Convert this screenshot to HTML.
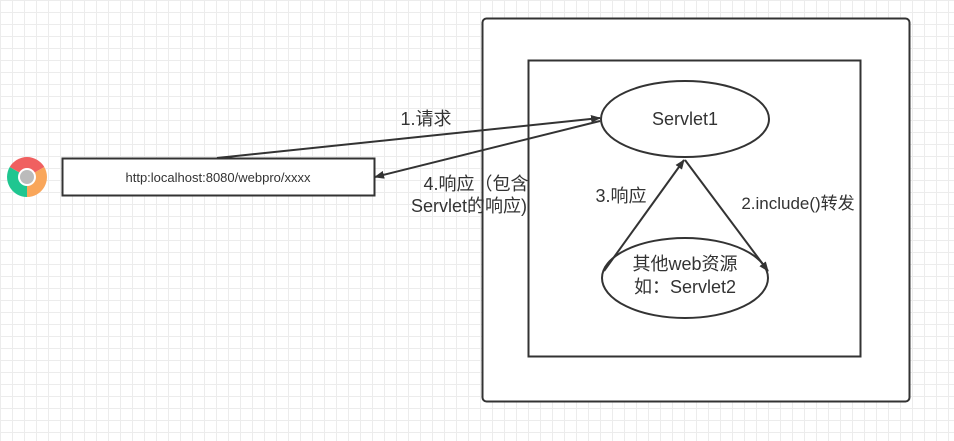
<!DOCTYPE html>
<html><head><meta charset="utf-8"><style>
html,body{margin:0;padding:0;}
body{width:954px;height:441px;overflow:hidden;background:#fff;
background-image:linear-gradient(#ececec 1px,transparent 1px),linear-gradient(90deg,#ececec 1px,transparent 1px);
background-size:12px 12px;}
</style></head><body>
<svg width="954" height="441" style="position:absolute;left:0;top:0" font-family="Liberation Sans, Noto Sans CJK SC, sans-serif">
<defs><marker id="a" markerWidth="10" markerHeight="8" refX="9" refY="4" orient="auto" markerUnits="userSpaceOnUse"><path d="M0,0 L10,4 L0,8 Z" fill="#333"/></marker></defs>
<rect x="482.5" y="18.5" width="427" height="383" rx="4" fill="#fff" stroke="#333" stroke-width="2"/>
<rect x="528.5" y="60.5" width="332" height="296" fill="#fff" stroke="#333" stroke-width="2"/>
<ellipse cx="685" cy="119" rx="84" ry="38" fill="#fff" stroke="#333" stroke-width="2"/>
<ellipse cx="685" cy="278" rx="83" ry="40" fill="#fff" stroke="#333" stroke-width="2"/>
<rect x="62.5" y="158.5" width="312" height="37" fill="#fff" stroke="#333" stroke-width="2"/>
<text x="218" y="182" font-size="13" fill="#333" text-anchor="middle">http:localhost:8080/webpro/xxxx</text>
<text x="685" y="125" font-size="18" fill="#333" text-anchor="middle">Servlet1</text>
<text x="685" y="270" font-size="18" fill="#333" text-anchor="middle">其他web资源</text>
<text x="685" y="293" font-size="18" fill="#333" text-anchor="middle">如：Servlet2</text>
<line x1="217" y1="158" x2="600" y2="118" stroke="#333" stroke-width="2" marker-end="url(#a)"/>
<line x1="600" y1="121" x2="375" y2="177" stroke="#333" stroke-width="2" marker-end="url(#a)"/>
<line x1="604" y1="271" x2="684" y2="160" stroke="#333" stroke-width="2" marker-end="url(#a)"/>
<line x1="685" y1="160" x2="768" y2="271" stroke="#333" stroke-width="2" marker-end="url(#a)"/>
<text x="426" y="125" font-size="18" fill="#333" text-anchor="middle">1.请求</text>
<text x="476" y="190" font-size="18" fill="#333" text-anchor="middle">4.响应（包含</text>
<text x="469" y="212" font-size="18" fill="#333" text-anchor="middle">Servlet的响应)</text>
<text x="621" y="202" font-size="18" fill="#333" text-anchor="middle">3.响应</text>
<text x="798" y="209" font-size="17" fill="#333" text-anchor="middle">2.include()转发</text>
<g transform="translate(27,177)">
<path d="M0,0 L-17.3,-10 A20,20 0 0 1 17.3,-10 Z" fill="#f06060"/>
<path d="M0,0 L17.3,-10 A20,20 0 0 1 0,20 Z" fill="#f9a65a"/>
<path d="M0,0 L0,20 A20,20 0 0 1 -17.3,-10 Z" fill="#1fc690"/>
<circle r="9" fill="#fff"/><circle r="7" fill="#bbb"/>
</g>
</svg>
</body></html>
